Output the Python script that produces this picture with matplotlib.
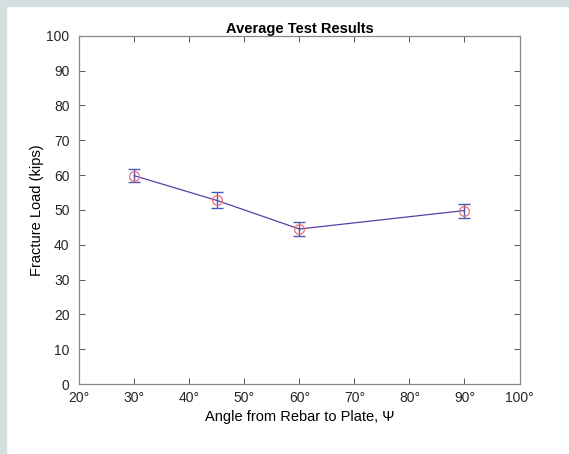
import matplotlib
matplotlib.use("Agg")
import matplotlib.pyplot as plt
from matplotlib.patches import Rectangle

# values
angles = [30, 45, 60, 90]
load_mean = [59.8, 52.7, 44.5, 49.8]
load_err = [1.85, 2.3, 2.15, 2.0]
x_ticks = [20, 30, 40, 50, 60, 70, 80, 90, 100]
x_labels = [f"{v}\u00b0" for v in x_ticks]
y_ticks = list(range(0, 101, 10))

plt.rcParams["font.family"] = ["Liberation Sans", "DejaVu Sans"]

fig = plt.figure(figsize=(5.69, 4.54), dpi=100)
fig.patches.append(Rectangle((0, 0), 5.5 / 569, 1, transform=fig.transFigure,
                             color="#d5dfdf", zorder=-10))
fig.patches.append(Rectangle((0, 1 - 5.5 / 454), 1, 5.5 / 454, transform=fig.transFigure,
                             color="#d5dfdf", zorder=-10))

ax = fig.add_axes([79.3 / 569, 1 - 384 / 454, (519.5 - 79.3) / 569, (384 - 35.7) / 454])

ax.errorbar(angles, load_mean, yerr=load_err, fmt="none", ecolor="#4b5bb5",
            elinewidth=1.0, capsize=4, capthick=1.0, zorder=2)
ax.plot(angles, load_mean, color="#5b3fa6", lw=0.9, zorder=3)
ax.plot(angles, load_mean, "o", ms=7, mfc="none", mec="#f07070", mew=0.9, zorder=4)

ax.set_xlim(20, 100)
ax.set_ylim(0, 100)
ax.set_xticks(x_ticks)
ax.set_xticklabels(x_labels)
ax.set_yticks(y_ticks)
ax.tick_params(direction="in", top=True, right=True, length=4, width=0.7,
               colors="#555555", labelcolor="#262626", labelsize=10)
ax.tick_params(axis="x", pad=5)
ax.tick_params(axis="y", pad=7)
for s in ax.spines.values():
    s.set_color("#888888")
    s.set_linewidth(0.9)

ax.set_title("Average Test Results", fontsize=10.5, fontweight="bold", pad=2)
ax.set_xlabel("Angle from Rebar to Plate, \u03a8", fontsize=10.5, labelpad=4)
ax.set_ylabel("Fracture Load (kips)", fontsize=10.5, labelpad=2)

fig.savefig("out.png", dpi=100)
